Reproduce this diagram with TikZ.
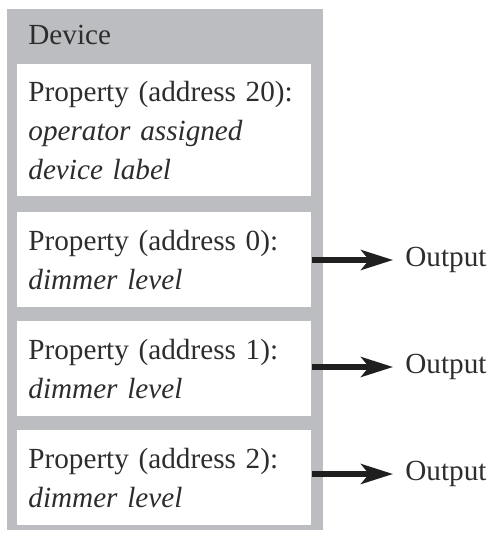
\documentclass[tikz,border=0pt]{standalone}
\usepackage{fontspec}
\setmainfont{Liberation Serif}[Ligatures=TeX]
\usepackage{tikz}
\usetikzlibrary{arrows.meta}
\definecolor{devgray}{RGB}{188,189,192}
\definecolor{inkgray}{RGB}{45,45,45}
\tikzstyle{device} = [rectangle, fill=devgray, inner sep=0pt, anchor=north west]
\tikzstyle{prop} = [rectangle, fill=white, anchor=north west, align=left, text width=136pt, inner xsep=5.5pt, inner ysep=0pt, text=inkgray, font=\rmfamily\fontsize{14.6}{19.5}\selectfont]
\tikzstyle{label} = [inner sep=0pt, text=inkgray, font=\rmfamily\fontsize{14.6}{19.5}\selectfont]
\tikzstyle{line} = [draw, line width=2.6pt, color=black!88, shorten >=6pt, -{Stealth[length=16pt,width=10pt,inset=4pt]}]

\begin{document}
\begin{tikzpicture}[x=0.5pt, y=-0.5pt]
		\useasboundingbox (0,0) rectangle (490,533);
		% Place nodes
		\node [device, minimum width=158pt, minimum height=260.5pt] (dev) at (7,9) {};
		\node [label, anchor=base west] (devname) at (28,45) {Device};
		\node [prop, minimum height=66pt] (prop20) at (17,64) {Property (address 20):\\\textit{operator assigned}\\\textit{device label}};
		\node [prop, minimum height=47.5pt] (prop0) at (17,212) {Property (address 0):\\\textit{dimmer level}};
		\node [prop, minimum height=47.5pt] (prop1) at (17,321) {Property (address 1):\\\textit{dimmer level}};
		\node [prop, minimum height=47.5pt] (prop2) at (17,430) {Property (address 2):\\\textit{dimmer level}};
		\node [label, anchor=west] (out0) at (405,260) {Output};
		\node [label, anchor=west] (out1) at (405,367) {Output};
		\node [label, anchor=west] (out2) at (405,474) {Output};
		% Draw edges
		\path [line] (prop0.east |- out0.west) -- (out0.west);
		\path [line] (prop1.east |- out1.west) -- (out1.west);
		\path [line] (prop2.east |- out2.west) -- (out2.west);
	\end{tikzpicture}
\end{document}
